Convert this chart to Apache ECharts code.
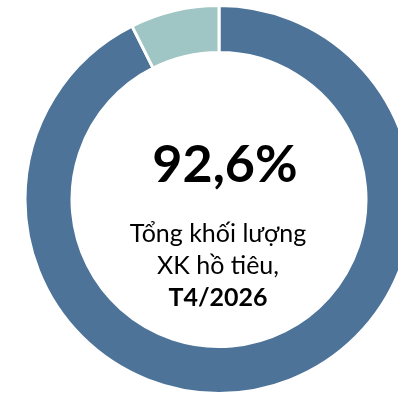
<!DOCTYPE html>
<html>
<head>
<meta charset="utf-8">
<script src="https://cdn.jsdelivr.net/npm/echarts@6/dist/echarts.min.js"></script>
<style>
  html, body { margin: 0; padding: 0; background: #fff; }
  #chart { width: 398px; height: 395px; }
</style>
</head>
<body>
<div id="chart"></div>
<script>
// Share of pepper export volume
const categories = ['Chiếm tỷ trọng', 'Còn lại'];
const shares = [92.6, 7.4];
const colors = ['#4d7398', '#9fc6c4'];

const headline = '92,6%';
const captionLines = ['Tổng khối lượng', 'XK hồ tiêu,'];
const captionPeriod = 'T4/2026';

const chart = echarts.init(document.getElementById('chart'), null, { renderer: 'canvas' });

chart.setOption({
  animation: false,
  backgroundColor: '#ffffff',
  series: [{
    type: 'pie',
    center: [219, 199.5],
    radius: [147, 194],
    startAngle: 90,
    clockwise: true,
    silent: true,
    label: { show: false },
    labelLine: { show: false },
    itemStyle: { borderColor: '#ffffff', borderWidth: 3 },
    data: categories.map((name, i) => ({
      name,
      value: shares[i],
      itemStyle: { color: colors[i] }
    }))
  }],
  graphic: [
    {
      type: 'text',
      x: 225,
      y: 139,
      style: {
        text: headline,
        font: 'bold 52px Lato, "Open Sans", sans-serif',
        fill: '#000000',
        align: 'center'
      }
    },
    {
      type: 'text',
      x: 218,
      y: 218,
      style: {
        text: captionLines.join('\n') + '\n{b|' + captionPeriod + '}',
        font: '25px Lato, "Open Sans", sans-serif',
        fill: '#000000',
        align: 'center',
        lineHeight: 32,
        rich: {
          b: { font: 'bold 25px Lato, "Open Sans", sans-serif', fill: '#000000', lineHeight: 32 }
        }
      }
    }
  ]
});
</script>
</body>
</html>
